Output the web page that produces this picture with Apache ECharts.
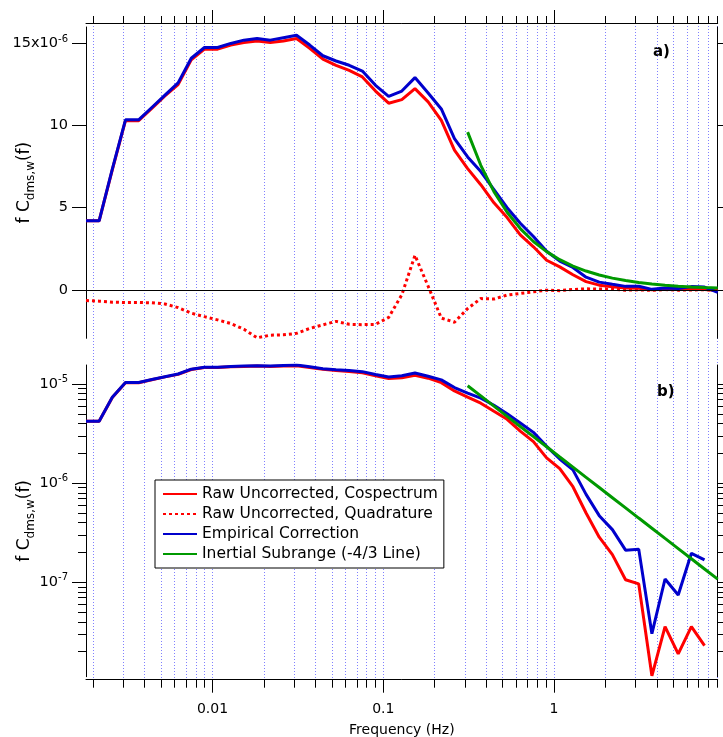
<!DOCTYPE html>
<html>
<head>
<meta charset="utf-8">
<script src="https://cdn.jsdelivr.net/npm/echarts@6/dist/echarts.min.js"></script>
<style>
  html, body { margin: 0; padding: 0; background: #fff; }
  #chart { width: 723px; height: 737px; }
</style>
</head>
<body>
<div id="chart"></div>
<script>
// Frequency bins (Hz)
const freq = [0.001816, 0.002168, 0.002589, 0.003092, 0.003693, 0.004410, 0.005265, 0.006286,
  0.007507, 0.008967, 0.01071, 0.01279, 0.01527, 0.01823, 0.02178, 0.02601, 0.03105, 0.03709,
  0.04429, 0.05289, 0.06315, 0.07542, 0.09006, 0.1075, 0.1284, 0.1533, 0.1831, 0.2187, 0.2611,
  0.3119, 0.3724, 0.4447, 0.5311, 0.6342, 0.7574, 0.9045, 1.080, 1.290, 1.540, 1.839, 2.196,
  2.623, 3.132, 3.741, 4.467, 5.335, 6.371, 7.607, 9.085];

// f*C(f) in units of 1e-6
const cospectrum = [4.2, 4.2, 7.3, 10.3, 10.3, 11.05, 11.8, 12.5, 14.0, 14.65, 14.65, 14.9, 15.05,
  15.15, 15.05, 15.15, 15.3, 14.7, 14.05, 13.67, 13.36, 12.96, 12.10, 11.36, 11.58, 12.25, 11.44,
  10.32, 8.50, 7.38, 6.4, 5.3, 4.4, 3.35, 2.62, 1.8, 1.4, 0.92, 0.50, 0.285, 0.19, 0.106, 0.0964,
  0.0114, 0.0357, 0.019, 0.0357, 0.023, -0.04];

const quadrature = [-0.65, -0.69, -0.75, -0.77, -0.77, -0.79, -0.86, -1.08, -1.42, -1.63, -1.83,
  -2.05, -2.4, -2.92, -2.76, -2.74, -2.65, -2.35, -2.13, -1.92, -2.1, -2.12, -2.1, -1.68, -0.3,
  2.1, 0.22, -1.72, -1.97, -1.14, -0.53, -0.56, -0.32, -0.22, -0.12, -0.02, -0.05, 0.02, 0.06,
  0.05, 0.04, -0.02, 0.0, -0.03, 0.02, -0.02, -0.01, 0.01, -0.02];

const corrected = [4.2, 4.2, 7.35, 10.35, 10.35, 11.1, 11.85, 12.6, 14.1, 14.75, 14.75, 15.0, 15.2,
  15.3, 15.2, 15.35, 15.5, 14.9, 14.25, 13.93, 13.67, 13.32, 12.45, 11.78, 12.1, 12.92, 11.98,
  11.01, 9.21, 8.09, 7.2, 6.1, 5.0, 4.05, 3.25, 2.35, 1.75, 1.36, 0.77, 0.47, 0.34, 0.211, 0.216,
  0.0303, 0.108, 0.0746, 0.196, 0.168, -0.15];

// -4/3 reference line, starting at freq[inertialStart]
const inertialStart = 29;
const inertial = [9.6, 7.58, 5.98, 4.72, 3.73, 2.945, 2.325, 1.835, 1.449, 1.144, 0.903, 0.713,
  0.563, 0.4445, 0.351, 0.277, 0.2187, 0.1727, 0.1363, 0.1076];

// Tick values
const xMajorTicks = [0.01, 0.1, 1];
const xMinorTicks = [0.002, 0.003, 0.004, 0.005, 0.006, 0.007, 0.008, 0.009,
  0.02, 0.03, 0.04, 0.05, 0.06, 0.07, 0.08, 0.09,
  0.2, 0.3, 0.4, 0.5, 0.6, 0.7, 0.8, 0.9,
  2, 3, 4, 5, 6, 7, 8, 9];
const xAllTicks = xMinorTicks.concat(xMajorTicks);
const linTicks = [0, 5, 10, 15];
const logMajorTicks = [0.1, 1, 10];
const logMinorTicks = [0.02, 0.03, 0.04, 0.05, 0.06, 0.07, 0.08, 0.09,
  0.2, 0.3, 0.4, 0.5, 0.6, 0.7, 0.8, 0.9,
  2, 3, 4, 5, 6, 7, 8, 9];

const names = ['Raw Uncorrected, Cospectrum', 'Raw Uncorrected, Quadrature',
  'Empirical Correction', 'Inertial Subrange (-4/3 Line)'];

const FONT = 'DejaVu Sans';
const RED = '#ff0000', BLUE = '#0000cc', GREEN = '#009900';

const pairs = (vals, offset) => vals.map((v, i) => [freq[i + (offset || 0)], v]);
const positivePairs = (vals, offset) => pairs(vals, offset).filter(p => p[1] > 0);

const X_MIN = 0.001816, X_MAX = 9.085;
const PLOT_LEFT = 86, PLOT_WIDTH = 631.7;
const BLACK_LINE = { show: true, onZero: false, lineStyle: { color: '#000', width: 1 } };
const NO_LINE = { show: false, onZero: false };

const yName = {
  name: '{m|f C}{s|dms,w}{m|(f)}',
  nameLocation: 'middle',
  nameRotate: 90,
  nameGap: 49,
  nameMoveOverlap: false,
  nameTextStyle: {
    color: '#000',
    fontFamily: FONT,
    rich: {
      m: { fontSize: 17, fontFamily: FONT, color: '#000', lineHeight: 24, verticalAlign: 'middle' },
      s: { fontSize: 12, fontFamily: FONT, color: '#000', lineHeight: 24, verticalAlign: 'bottom' }
    }
  }
};

function logXAxis(gridIndex, position, ticks, tickLen, extra) {
  return Object.assign({
    type: 'log', gridIndex, position, min: X_MIN, max: X_MAX, logBase: 10,
    axisLine: NO_LINE,
    axisTick: { show: true, customValues: ticks, length: tickLen, inside: false,
      lineStyle: { color: '#000', width: 1 } },
    axisLabel: { show: false },
    splitLine: { show: false },
    minorTick: { show: false },
    minorSplitLine: { show: false }
  }, extra || {});
}

const option = {
  animation: false,
  backgroundColor: '#fff',
  grid: [
    { left: PLOT_LEFT, top: 27, width: PLOT_WIDTH, height: 311.3, outerBoundsMode: 'none', containLabel: false },
    { left: PLOT_LEFT, top: 365, width: PLOT_WIDTH, height: 311.7, outerBoundsMode: 'none', containLabel: false },
    { left: PLOT_LEFT, top: 23, width: PLOT_WIDTH, height: 657, outerBoundsMode: 'none', containLabel: false }
  ],
  xAxis: [
    logXAxis(0, 'top', xMinorTicks, 7, { offset: 4, axisLine: BLACK_LINE }),
    logXAxis(0, 'top', xMajorTicks, 13, { offset: 4 }),
    logXAxis(1, 'bottom', xMinorTicks, 8, {
      offset: 3,
      axisLine: BLACK_LINE,
      name: 'Frequency (Hz)', nameLocation: 'middle', nameGap: 44, nameMoveOverlap: false,
      nameTextStyle: { color: '#000', fontFamily: FONT, fontSize: 14 }
    }),
    logXAxis(1, 'bottom', xMajorTicks, 13, {
      offset: 3,
      axisLabel: { show: true, customValues: xMajorTicks, margin: 23, color: '#000',
        fontFamily: FONT, fontSize: 14, formatter: v => String(v) }
    }),
    // full-height axis that only carries the vertical dotted grid
    logXAxis(2, 'bottom', xAllTicks, 0, {
      axisTick: { show: false, customValues: xAllTicks },
      splitLine: { show: true, lineStyle: { color: '#8080ff', width: 1, type: [1, 2] } }
    })
  ],
  yAxis: [
    Object.assign({
      type: 'value', gridIndex: 0, position: 'left', min: -2.95, max: 16,
      axisLine: BLACK_LINE,
      axisTick: { show: true, customValues: linTicks, length: 14, lineStyle: { color: '#000' } },
      axisLabel: {
        customValues: linTicks, margin: 18, color: '#000', fontFamily: FONT, fontSize: 14.5,
        formatter: v => v === 15 ? '15x10{sup|-6}' : String(v),
        rich: { sup: { fontSize: 10, fontFamily: FONT, color: '#000', padding: [0, 0, 9, 0] } }
      },
      splitLine: { show: false }
    }, yName),
    {
      type: 'value', gridIndex: 0, position: 'right', min: -2.95, max: 16,
      axisLine: BLACK_LINE,
      axisTick: { show: true, customValues: linTicks, length: 6, lineStyle: { color: '#000' } },
      axisLabel: { show: false }, splitLine: { show: false }
    },
    Object.assign({
      type: 'log', logBase: 10, gridIndex: 1, position: 'left', min: 0.01117, max: 15.54,
      axisLine: BLACK_LINE,
      axisTick: { show: true, customValues: logMinorTicks, length: 8, lineStyle: { color: '#000' } },
      axisLabel: {
        customValues: logMajorTicks, margin: 18, color: '#000', fontFamily: FONT, fontSize: 14.5,
        formatter: v => '10{sup|' + (Math.round(Math.log10(v)) - 6) + '}',
        rich: { sup: { fontSize: 10, fontFamily: FONT, color: '#000', padding: [0, 0, 9, 0] } }
      },
      splitLine: { show: false }, minorTick: { show: false }, minorSplitLine: { show: false }
    }, yName),
    {
      type: 'log', logBase: 10, gridIndex: 1, position: 'left', min: 0.01117, max: 15.54,
      axisLine: NO_LINE,
      axisTick: { show: true, customValues: logMajorTicks, length: 14, lineStyle: { color: '#000' } },
      axisLabel: { show: false }, splitLine: { show: false }
    },
    {
      type: 'log', logBase: 10, gridIndex: 1, position: 'right', min: 0.01117, max: 15.54,
      axisLine: BLACK_LINE,
      axisTick: { show: true, customValues: logMinorTicks.concat(logMajorTicks), length: 6,
        lineStyle: { color: '#000' } },
      axisLabel: { show: false }, splitLine: { show: false }
    },
    { type: 'value', gridIndex: 2, min: 0, max: 1, show: false }
  ],
  legend: {
    data: names,
    orient: 'vertical',
    left: 155, top: 480,
    itemWidth: 34, itemHeight: 14, itemGap: 4,
    padding: [6, 6, 6, 7],
    backgroundColor: '#fff', borderColor: '#000', borderWidth: 1,
    itemStyle: { color: 'rgba(0,0,0,0)', borderColor: 'rgba(0,0,0,0)', borderWidth: 0, opacity: 0 },
    textStyle: { fontFamily: FONT, fontSize: 15.5, color: '#000' },
    selectedMode: false
  },
  graphic: [
    { type: 'text', left: 653, top: 45, style: { text: 'a)', font: 'bold 15px "DejaVu Sans"', fill: '#000' } },
    { type: 'text', left: 657, top: 385, style: { text: 'b)', font: 'bold 15px "DejaVu Sans"', fill: '#000' } }
  ],
  series: [
    {
      name: names[0], type: 'line', xAxisIndex: 0, yAxisIndex: 0, data: pairs(cospectrum),
      symbol: 'none', lineStyle: { color: RED, width: 3 }, itemStyle: { color: RED }
    },
    {
      name: names[1], type: 'line', xAxisIndex: 0, yAxisIndex: 0, data: pairs(quadrature),
      symbol: 'none', lineStyle: { color: RED, width: 3, type: [3, 3] }, itemStyle: { color: RED },
      markLine: {
        silent: true, symbol: 'none', label: { show: false },
        lineStyle: { color: '#000', width: 1, type: 'solid' },
        data: [{ yAxis: 0 }]
      }
    },
    {
      name: names[2], type: 'line', xAxisIndex: 0, yAxisIndex: 0, data: pairs(corrected),
      symbol: 'none', lineStyle: { color: BLUE, width: 3 }, itemStyle: { color: BLUE }
    },
    {
      name: names[3], type: 'line', xAxisIndex: 0, yAxisIndex: 0, data: pairs(inertial, inertialStart),
      symbol: 'none', lineStyle: { color: GREEN, width: 3 }, itemStyle: { color: GREEN }
    },
    {
      name: names[0], type: 'line', xAxisIndex: 2, yAxisIndex: 2, data: positivePairs(cospectrum),
      symbol: 'none', lineStyle: { color: RED, width: 3 }, itemStyle: { color: RED }
    },
    {
      name: names[2], type: 'line', xAxisIndex: 2, yAxisIndex: 2, data: positivePairs(corrected),
      symbol: 'none', lineStyle: { color: BLUE, width: 3 }, itemStyle: { color: BLUE }
    },
    {
      name: names[3], type: 'line', xAxisIndex: 2, yAxisIndex: 2, data: positivePairs(inertial, inertialStart),
      symbol: 'none', lineStyle: { color: GREEN, width: 3 }, itemStyle: { color: GREEN }
    }
  ]
};

const chart = echarts.init(document.getElementById('chart'), null, { renderer: 'canvas' });
chart.setOption(option);
</script>
</body>
</html>
